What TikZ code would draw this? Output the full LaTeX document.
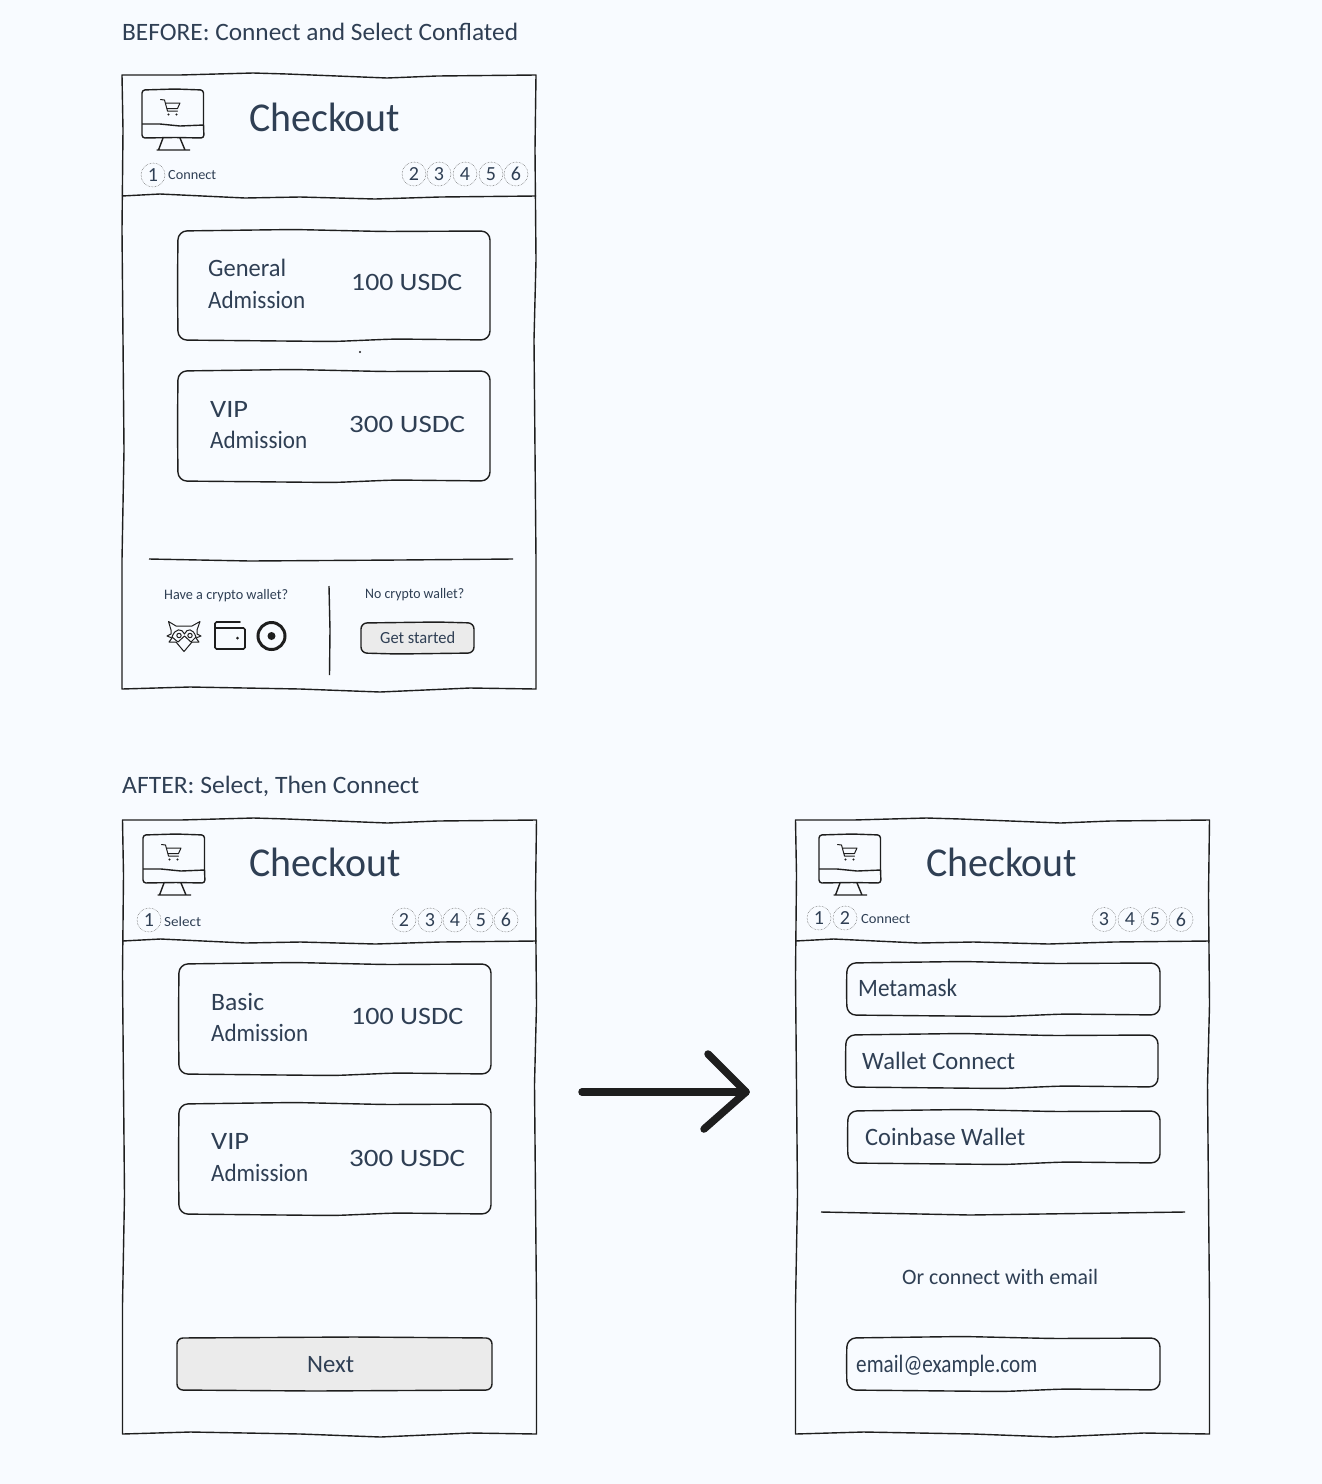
\documentclass[tikz,border=0pt]{standalone}
\usepackage{fontspec}
\usepackage{graphicx}
\setmainfont{Carlito}
\definecolor{pagebg}{HTML}{F8FBFF}
\definecolor{inkc}{HTML}{1E1E1E}
\definecolor{textc}{HTML}{2F3F54}
\definecolor{btnc}{HTML}{EBEBEB}
\tikzset{
  ink/.style={draw=inkc,line width=1.4pt,line join=round},
  thinink/.style={draw=inkc,line width=1pt,line join=round,line cap=round},
  cardbox/.style={ink,rounded corners=9pt,fill=pagebg},
  btnbox/.style={ink,rounded corners=6pt,fill=btnc},
  stepring/.style={circle,draw=inkc!75,densely dotted,line width=.5pt,minimum size=24pt,inner sep=0pt,text=textc,font=\fontsize{20}{20}\selectfont},
  lab/.style={inner sep=0pt,text=textc,anchor=west},
}
% name, x, y centre, font size, width, text
\newcommand{\lbl}[6]{\node[lab] (#1) at (#2,#3) {\fontsize{#4}{#4}\selectfont\resizebox{#5pt}{\height}{#6}};}
\newcommand{\stepn}[4]{\node[stepring] (#1) at (#2,#3) {#4};}
% wireframe screen, shift x y, monitor shift x
\newcommand{\screen}[3]{%
\begin{scope}[shift={(#1,#2)}]
 \draw[ink,fill=pagebg] (122,75) -- (180,75) -- (253,73) -- (287,74) -- (387,78) -- (437,76) -- (536,75)
   -- (535,150) -- (536,260) -- (534,340) -- (535,450) -- (536,560) -- (536,689)
   -- (470,688) -- (380,692) -- (300,689) -- (190,687) -- (122,689)
   -- (122,560) -- (124,450) -- (123,340) -- (122,230) -- (123,130) -- cycle;
 \draw[ink] (122,196) -- (160,194) -- (245,198) -- (300,197) -- (375,199) -- (440,197) -- (536,196);
\end{scope}
\begin{scope}[shift={(#3,#2)}]
 % monitor
 \draw[ink,rounded corners=3pt] (142,90) -- (175,89) -- (203.5,90) -- (203.5,125) -- (204,138) -- (175,137.5) -- (142,138) -- cycle;
 \draw[ink] (142,124) -- (160,124) -- (180,126) -- (204,125);
 \draw[ink] (163,138) -- (158.5,150) (180,138) -- (185,150) (156.5,150) -- (190,150);
 % cart
 \draw[thinink] (160.5,99.5) -- (164.5,100) -- (167.5,111) -- (177.5,111) (165.3,103) -- (180,103) -- (177.5,108.5) -- (166.8,108.5);
 \fill[inkc] (168.5,114.5) circle (1.1pt) (176.5,114.5) circle (1.1pt);
\end{scope}}
\newcommand{\wcard}[4]{\draw[cardbox] (#1,#2) -- ({(#1+#3)/2-40},{#2-1.5}) -- ({(#1+#3)/2+50},{#2+.5}) -- (#3,#2) -- (#3,{(#2+#4)/2+1}) -- (#3,#4) -- ({(#1+#3)/2+60},{#4-1}) -- ({(#1+#3)/2},{#4+1.5}) -- (#1,#4) -- ({#1-.5},{(#2+#4)/2}) -- cycle;}
\newcommand{\wbtn}[4]{\draw[btnbox] (#1,#2) -- ({(#1+#3)/2+20},{#2-1}) -- (#3,#2) -- (#3,#4) -- ({(#1+#3)/2-20},{#4+1}) -- (#1,#4) -- cycle;}
\begin{document}
\begin{tikzpicture}[x=1pt,y=-1pt]
\useasboundingbox (0,0) rectangle (1322,1484);
\fill[pagebg] (0,0) rectangle (1322,1484);

%%% BEFORE
\lbl{titleA}{122}{32}{25}{396}{BEFORE: Connect and Select Conflated}
\screen{0}{0}{0}
\lbl{chkA}{249}{117}{41}{151}{Checkout}
\stepn{a1}{153}{175}{1}
\lbl{aconn}{168}{175.5}{14}{48}{Connect}
\stepn{a2}{414}{174}{2}\stepn{a3}{439}{174}{3}\stepn{a4}{465}{174}{4}\stepn{a5}{491}{174}{5}\stepn{a6}{516}{174}{6}
\wcard{178}{231}{490}{340}
\lbl{ag1}{208}{268}{25}{78}{General}
\lbl{ag2}{208}{300}{25}{97}{Admission}
\lbl{ag3}{351}{282}{25}{111}{100 USDC}
\fill[inkc] (360,352) circle (1.2pt);
\wcard{178}{371}{490}{481}
\lbl{av1}{210}{409}{25}{38}{VIP}
\lbl{av2}{210}{440}{25}{97}{Admission}
\lbl{av3}{349}{424}{25}{116}{300 USDC}
\draw[ink] (149,559) -- (250,561) -- (400,560) -- (513,559);
\lbl{ahave}{164}{595.5}{14.5}{124}{Have a crypto wallet?}
\lbl{ano}{365}{594.5}{14.5}{99}{No crypto wallet?}
\draw[ink] (329,586) -- (330,630) -- (329.5,675);
% fox
\draw[thinink] (168.5,621.5) -- (176,626) -- (192,626) -- (200,621.5) -- (197,630) -- (197,634) -- (201,636) -- (196,638) -- (199,642) -- (192,642) -- (184,651.5) -- (176,642) -- (169,642) -- (172,638) -- (167,636) -- (171,634) -- (171,630) -- cycle;
\draw[thinink] (172,637) .. controls (175,628) and (182,628) .. (184.5,634) .. controls (187,628) and (193,628) .. (196,637);
\draw[thinink] (172,637) -- (178,642) -- (184.5,636) -- (191,642) -- (196,637);
\draw[thinink] (179,635.5) circle (2.2pt) (190,635.5) circle (2.2pt);
% wallet
\draw[draw=inkc,line width=1.6pt,rounded corners=1.5pt,line cap=round] (240,622) -- (215,622) -- (215,649) -- (245,649) -- (245,628) -- (215,628);
\fill[inkc] (237.5,638) circle (1.5pt);
% target
\draw[draw=inkc,line width=3pt] (271.5,636) circle (13.5pt);
\fill[inkc] (271.5,636) circle (4pt);
\wbtn{361}{623}{474}{653}
\lbl{aget}{380}{638}{17}{75}{Get started}

%%% AFTER left
\lbl{titleB}{122}{786.5}{25}{297}{AFTER: Select, Then Connect}
\screen{0.5}{745}{1}
\lbl{chkB}{249.5}{862}{41}{151}{Checkout}
\stepn{b1}{149}{920}{1}
\lbl{bsel}{164}{921.5}{14}{37}{Select}
\stepn{b2}{404}{920}{2}\stepn{b3}{430}{920}{3}\stepn{b4}{455}{920}{4}\stepn{b5}{481}{920}{5}\stepn{b6}{506}{920}{6}
\wcard{179}{964}{491}{1074}
\lbl{bg1}{211}{1002}{25}{53}{Basic}
\lbl{bg2}{211}{1033}{25}{97}{Admission}
\lbl{bg3}{351}{1016}{25}{112}{100 USDC}
\wcard{179}{1104}{491}{1214}
\lbl{bv1}{211}{1141}{25}{38}{VIP}
\lbl{bv2}{211}{1173}{25}{97}{Admission}
\lbl{bv3}{349}{1158}{25}{116}{300 USDC}
\wbtn{177}{1338}{492}{1390}
\lbl{bnext}{307}{1365}{25}{47}{Next}

%%% arrow
\coordinate (arrA) at (582,1092);
\coordinate (arrB) at (746,1092);
\coordinate (arrC) at (708,1054);
\coordinate (arrD) at (704,1129);
\draw[draw=inkc,line width=7.5pt,line cap=round,line join=round] (arrA) -- (arrB);
\draw[draw=inkc,line width=7.5pt,line cap=round,line join=round] (arrC) -- (arrB) -- (arrD);

%%% AFTER right
\screen{673.5}{745}{677}
\lbl{chkC}{926}{862}{41}{151}{Checkout}
\stepn{c1}{819}{918}{1}\stepn{c2}{845}{918}{2}
\lbl{cconn}{861}{919}{14}{49}{Connect}
\stepn{c3}{1104}{919.5}{3}\stepn{c4}{1130}{919.5}{4}\stepn{c5}{1155}{919.5}{5}\stepn{c6}{1181}{919.5}{6}
\wcard{847}{963}{1160}{1015}
\lbl{cm}{858}{988}{25}{99}{Metamask}
\wcard{846}{1035}{1158}{1087}
\lbl{cw}{862}{1061}{25}{153}{Wallet Connect}
\wcard{848}{1111}{1160}{1163}
\lbl{cc}{865}{1137}{25}{160}{Coinbase Wallet}
\draw[ink] (821,1212) -- (970,1215) -- (1185,1212);
\lbl{cor}{902}{1276.5}{22}{196}{Or connect with email}
\wcard{847}{1338}{1160}{1390}
\lbl{ce}{856}{1365.5}{25}{181}{email@example.com}
\end{tikzpicture}
\end{document}
